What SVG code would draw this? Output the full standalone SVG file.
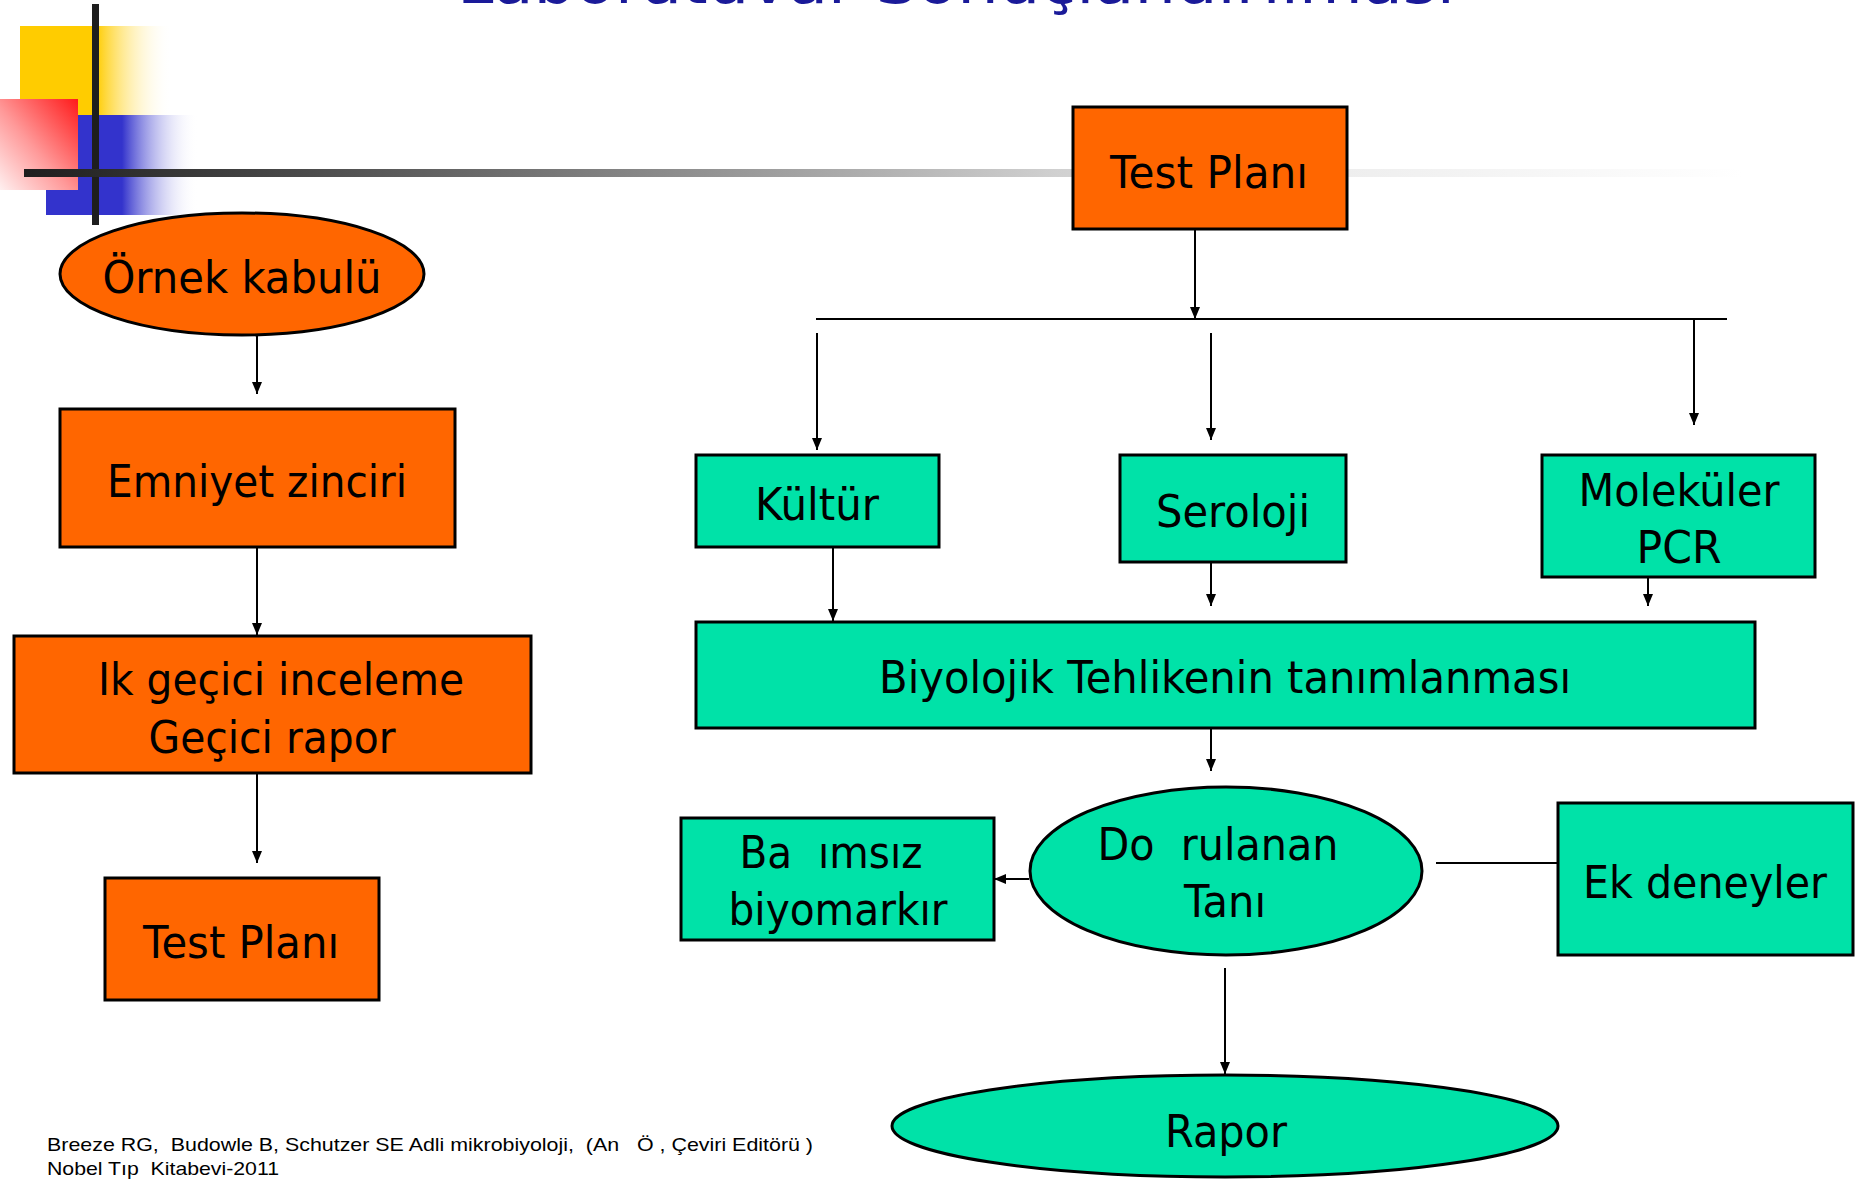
<svg xmlns="http://www.w3.org/2000/svg" width="1859" height="1180" viewBox="0 0 1859 1180">
<style>
.or{fill:#FF6600;stroke:#000;stroke-width:3}
.tl{fill:#00E2A8;stroke:#000;stroke-width:3}
.t{font-family:"DejaVu Sans","Verdana",sans-serif;font-size:44px;fill:#000;text-anchor:middle}
.foot{font-family:"Liberation Sans",Arial,sans-serif;font-size:19px;fill:#000}
.c{fill:none;stroke:#000;stroke-width:2}
.ca{marker-end:url(#ah)}
</style>
<defs>
<marker id="ah" markerUnits="userSpaceOnUse" markerWidth="12" markerHeight="12" viewBox="0 0 12 12" refX="12" refY="6" orient="auto">
<path d="M0,1 L12,6 L0,11 z" fill="#000"/>
</marker>
<linearGradient id="gy" x1="0" y1="0" x2="1" y2="0">
<stop offset="0" stop-color="#FFCC00"/><stop offset="0.5" stop-color="#FFCC00"/><stop offset="1" stop-color="#FFFFFF" stop-opacity="0"/>
</linearGradient>
<linearGradient id="gb" x1="0" y1="0" x2="1" y2="0">
<stop offset="0" stop-color="#3333CC"/><stop offset="0.5" stop-color="#3333CC"/><stop offset="1" stop-color="#FFFFFF" stop-opacity="0"/>
</linearGradient>
<linearGradient id="gr" x1="1" y1="0" x2="0" y2="1">
<stop offset="0" stop-color="#FF1A1A"/><stop offset="0.55" stop-color="#FF9999"/><stop offset="1" stop-color="#FFF0F0"/>
</linearGradient>
<linearGradient id="gl" x1="0" y1="0" x2="1" y2="0">
<stop offset="0" stop-color="#1E1E1E"/><stop offset="0.16" stop-color="#4A4A4A"/><stop offset="0.6" stop-color="#D0D0D0"/><stop offset="0.77" stop-color="#EEEEEE"/><stop offset="1" stop-color="#FFFFFF"/>
</linearGradient>
</defs>

<g id="decor">
<rect x="20" y="26" width="152" height="89" fill="url(#gy)"/>
<rect x="46" y="115" width="152" height="100" fill="url(#gb)"/>
<rect x="0" y="99" width="78" height="91" fill="url(#gr)"/>
<rect x="92" y="4" width="7" height="221" fill="#1E1E1E"/>
<rect x="24" y="169" width="1719" height="8" fill="url(#gl)"/>
</g>

<g id="title">
<text x="956" y="3" font-family="DejaVu Sans, Verdana, sans-serif" font-size="60" fill="#1A1A99" text-anchor="middle" textLength="998" lengthAdjust="spacingAndGlyphs">Laboratuvar Sonuçlandırılması</text>
</g>

<g id="connectors">
<path class="c ca" d="M257,335 V394"/>
<path class="c ca" d="M257,547 V635"/>
<path class="c ca" d="M257,773 V863"/>
<path class="c ca" d="M1195,229 V319"/>
<path class="c" d="M816,319 H1727" stroke-width="3"/>
<path class="c ca" d="M817,333 V450"/>
<path class="c ca" d="M1211,333 V440"/>
<path class="c ca" d="M1694,319 V425"/>
<path class="c ca" d="M833,547 V621"/>
<path class="c ca" d="M1211,562 V606"/>
<path class="c ca" d="M1648,577 V606"/>
<path class="c ca" d="M1211,728 V771"/>
<path class="c ca" d="M1029,879 H994" stroke-width="3"/>
<path class="c" d="M1436,863 H1558" stroke-width="3"/>
<path class="c ca" d="M1225,968 V1074"/>
</g>

<g id="n-testplani-top">
<rect class="or" x="1073" y="107" width="274" height="122"/>
<text class="t" x="1209" y="188" textLength="198" lengthAdjust="spacingAndGlyphs">Test Planı</text>
</g>

<g id="n-ornek">
<ellipse class="or" cx="242" cy="274" rx="182" ry="61"/>
<text class="t" x="242" y="293" textLength="279" lengthAdjust="spacingAndGlyphs">Örnek kabulü</text>
</g>

<g id="n-emniyet">
<rect class="or" x="60" y="409" width="395" height="138"/>
<text class="t" x="257" y="497" textLength="300" lengthAdjust="spacingAndGlyphs">Emniyet zinciri</text>
</g>

<g id="n-ilk">
<rect class="or" x="14" y="636" width="517" height="137"/>
<text class="t" x="281" y="695" textLength="366" lengthAdjust="spacingAndGlyphs">Ik geçici inceleme</text>
<text class="t" x="272" y="753" textLength="247" lengthAdjust="spacingAndGlyphs">Geçici rapor</text>
</g>

<g id="n-testplani-left">
<rect class="or" x="105" y="878" width="274" height="122"/>
<text class="t" x="241" y="958" textLength="196" lengthAdjust="spacingAndGlyphs">Test Planı</text>
</g>

<g id="n-kultur">
<rect class="tl" x="696" y="455" width="243" height="92"/>
<text class="t" x="817" y="520" textLength="124" lengthAdjust="spacingAndGlyphs">Kültür</text>
</g>

<g id="n-seroloji">
<rect class="tl" x="1120" y="455" width="226" height="107"/>
<text class="t" x="1233" y="527" textLength="154" lengthAdjust="spacingAndGlyphs">Seroloji</text>
</g>

<g id="n-molekuler">
<rect class="tl" x="1542" y="455" width="273" height="122"/>
<text class="t" x="1679" y="506" textLength="201" lengthAdjust="spacingAndGlyphs">Moleküler</text>
<text class="t" x="1679" y="563" textLength="85" lengthAdjust="spacingAndGlyphs">PCR</text>
</g>

<g id="n-biyolojik">
<rect class="tl" x="696" y="622" width="1059" height="106"/>
<text class="t" x="1225" y="693" textLength="692" lengthAdjust="spacingAndGlyphs">Biyolojik Tehlikenin tanımlanması</text>
</g>

<g id="n-bagimsiz">
<rect class="tl" x="681" y="818" width="313" height="122"/>
<text class="t" x="831" y="868" textLength="183" lengthAdjust="spacingAndGlyphs" xml:space="preserve">Ba  ımsız</text>
<text class="t" x="838" y="925" textLength="219" lengthAdjust="spacingAndGlyphs">biyomarkır</text>
</g>

<g id="n-dogrulanan">
<ellipse class="tl" cx="1226" cy="871" rx="196" ry="84"/>
<text class="t" x="1218" y="860" textLength="241" lengthAdjust="spacingAndGlyphs" xml:space="preserve">Do  rulanan</text>
<text class="t" x="1225" y="917" textLength="82" lengthAdjust="spacingAndGlyphs">Tanı</text>
</g>

<g id="n-ek">
<rect class="tl" x="1558" y="803" width="295" height="152"/>
<text class="t" x="1705" y="898" textLength="244" lengthAdjust="spacingAndGlyphs">Ek deneyler</text>
</g>

<g id="n-rapor">
<ellipse class="tl" cx="1225" cy="1126" rx="333" ry="51"/>
<text class="t" x="1226" y="1147" textLength="122" lengthAdjust="spacingAndGlyphs">Rapor</text>
</g>

<g id="footer">
<text class="foot" x="47" y="1151" textLength="766" lengthAdjust="spacingAndGlyphs" xml:space="preserve">Breeze RG,  Budowle B, Schutzer SE Adli mikrobiyoloji,  (An   Ö , Çeviri Editörü )</text>
<text class="foot" x="47" y="1175" textLength="232" lengthAdjust="spacingAndGlyphs" xml:space="preserve">Nobel Tıp  Kitabevi-2011</text>
</g>
</svg>
